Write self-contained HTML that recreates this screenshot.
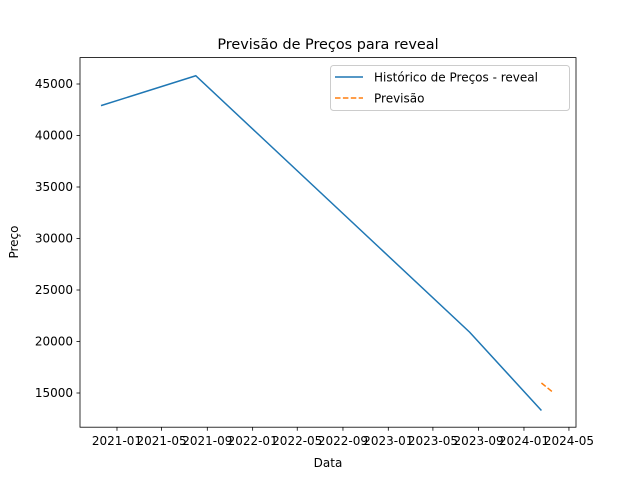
<!DOCTYPE html>
<html><head><meta charset="utf-8"><style>
body{margin:0;background:#fff}
svg{display:block;font-family:"DejaVu Sans","Liberation Sans",sans-serif}
</style></head><body>
<svg id="chart" width="640" height="480">
<rect x="0" y="0" width="640" height="480" fill="#fff"/>
<g id="plot"></g>
<rect x="80" y="57.6" width="496" height="369.6" fill="none" stroke="#000" stroke-width="0.8"/>
<text x="328" y="49" text-anchor="middle" font-size="14.4">Previsão de Preços para reveal</text>
<text x="328" y="467" text-anchor="middle" font-size="12">Data</text>
<text transform="translate(18,242) rotate(-90)" text-anchor="middle" font-size="12">Preço</text>
<g>
<rect x="330.5" y="65.5" width="239" height="45" rx="3" fill="#fff" fill-opacity="0.8" stroke="#ccc"/>
<line x1="335" y1="77" x2="363" y2="77" stroke="#1f77b4" stroke-width="1.5"/>
<text x="374" y="81.5" font-size="12">Histórico de Preços - reveal</text>
<line x1="335" y1="98" x2="363" y2="98" stroke="#ff7f0e" stroke-width="1.5" stroke-dasharray="5.5,2.4"/>
<text x="374" y="102.5" font-size="12">Previsão</text>
</g>
</svg>
<script>
const histDates=["2020-11-19","2021-08-01","2023-08-08","2024-02-17"];
const histValues=[42900,45800,20900,13300];
const fcDates=["2024-02-17","2024-03-18"];
const fcValues=[15970,15100];
const yTicks=[15000,20000,25000,30000,35000,40000,45000];
const xTicks=["2021-01","2021-05","2021-09","2022-01","2022-05","2022-09","2023-01","2023-05","2023-09","2024-01","2024-05"];
const NS="http://www.w3.org/2000/svg";
const base=Date.UTC(2021,0,1);
function days(s){const p=s.split("-").map(Number);return (Date.UTC(p[0],p[1]-1,p[2]||1)-base)/864e5;}
const dMin=-99.5,dMax=1235,yMin=11680,yMax=47563;
function xs(s){return 80+(days(s)-dMin)/(dMax-dMin)*496;}
function ys(v){return 427.2-(v-yMin)/(yMax-yMin)*369.6;}
const g=document.getElementById("plot");
function mk(t,a){const e=document.createElementNS(NS,t);for(const k in a)e.setAttribute(k,a[k]);g.appendChild(e);return e;}
yTicks.forEach(v=>{const y=ys(v);
const l=mk("line",{x1:76.5,x2:80,y1:y,y2:y,stroke:"#000","stroke-width":0.8});


const t=mk("text",{x:73,y:y+4.2,"text-anchor":"end","font-size":12});t.textContent=v;

});
xTicks.forEach(s=>{const x=xs(s);
const l=mk("line",{x1:x,x2:x,y1:427.2,y2:430.7,stroke:"#000","stroke-width":0.8});


const t=mk("text",{x:x,y:445,"text-anchor":"middle","font-size":12});t.textContent=s;

});
const h=mk("polyline",{points:histDates.map((d,i)=>xs(d)+","+ys(histValues[i])).join(" "),fill:"none",stroke:"#1f77b4","stroke-width":1.5});


const f=mk("polyline",{points:fcDates.map((d,i)=>xs(d)+","+ys(fcValues[i])).join(" "),fill:"none",stroke:"#ff7f0e","stroke-width":1.5,"stroke-dasharray":"5.5,2.4"});


</script>
</body></html>
